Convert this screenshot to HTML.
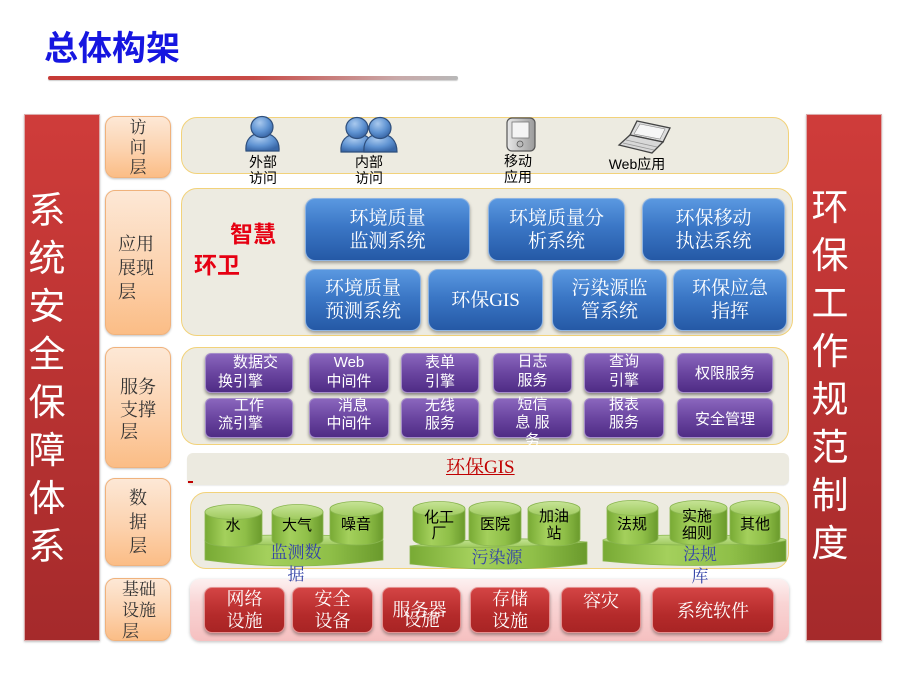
<!DOCTYPE html>
<html><head><meta charset="utf-8">
<style>
*{margin:0;padding:0;box-sizing:border-box;}
html,body{width:923px;height:696px;background:#fff;overflow:hidden;position:relative;}
.a{position:absolute;}
.sans{font-family:"Liberation Sans","Noto Sans CJK SC","WenQuanYi Zen Hei",sans-serif;}
.serif{font-family:"Liberation Serif","Noto Serif CJK SC","Noto Sans CJK SC",serif;}
.pix{font-family:"Liberation Sans","WenQuanYi Zen Hei","Noto Sans CJK SC",sans-serif;}
.bar{background:linear-gradient(#cf3c3a,#a52a2b);border:1px solid #dcaaaa;box-shadow:0 1px 2px rgba(0,0,0,0.25);}
.bar div{position:absolute;color:#fff;font-size:37px;line-height:48px;width:48px;text-align:center;}
.lay{background:linear-gradient(#fde8d6,#fcd2ae 55%,#fbbd86);border:1px solid #f0b27c;border-radius:10px;box-shadow:0 1px 2px rgba(0,0,0,0.25);color:#333;font-size:17px;}
.pan{background:#edebe1;border:1.5px solid #f2d27a;border-radius:16px;}
.blue{background:linear-gradient(#5a98e0,#3b77c6 45%,#2559a6);border:1px solid #8db3e2;border-radius:10px;box-shadow:0 2px 3px rgba(0,0,0,0.35);color:#fff;font-size:19px;line-height:23px;text-align:center;display:flex;align-items:center;justify-content:center;}
.pur{background:linear-gradient(#8a66bd,#6a45a0 50%,#4f2c85);border:1px solid #a58dc9;border-radius:6px;box-shadow:0 2px 3px rgba(0,0,0,0.45);color:#fff;font-size:15px;}
.pur div{position:absolute;line-height:18px;white-space:nowrap;}
.red{background:linear-gradient(#d44444,#b52b2b 60%,#a82424);border:1px solid #e59090;border-radius:8px;box-shadow:0 2px 3px rgba(0,0,0,0.35);color:#fff;font-size:18px;}
.red div{position:absolute;left:0;right:0;text-align:center;line-height:20px;white-space:nowrap;}
.lbl{color:#000;font-size:14px;line-height:16px;text-align:center;white-space:nowrap;}
.top{z-index:5;}
</style></head><body>

<!-- Title -->
<div class="a sans" style="left:44px;top:30px;font-size:34px;line-height:38px;font-weight:bold;color:#1616e0;">总体构架</div>
<div class="a" style="left:48px;top:76px;width:410px;height:4px;background:linear-gradient(90deg,#c63a36,#c84a46 50%,#c9a8a8 85%,#b8b8b8);border-radius:2px;box-shadow:0 1px 1px rgba(0,0,0,0.2);"></div>

<!-- Left bar -->
<div class="a bar sans" style="left:24px;top:114px;width:76px;height:527px;">
<div style="left:-2px;top:72px;">系<br>统<br>安<br>全<br>保<br>障<br>体<br>系</div>
</div>
<!-- Right bar -->
<div class="a bar sans" style="left:806px;top:114px;width:76px;height:527px;">
<div style="left:-1px;top:69px;">环<br>保<br>工<br>作<br>规<br>范<br>制<br>度</div>
</div>

<!-- Layer labels -->
<div class="a lay serif" style="left:105px;top:116px;width:66px;height:62px;"><div class="a" style="left:0;right:0;top:1px;text-align:center;line-height:20px;">访<br>问<br>层</div></div>
<div class="a lay serif" style="left:105px;top:190px;width:66px;height:145px;"><div class="a" style="left:12px;top:41px;line-height:24px;font-size:18px;">应用<br>展现<br>层</div></div>
<div class="a lay serif" style="left:105px;top:347px;width:66px;height:121px;"><div class="a" style="left:14px;top:28px;line-height:22.5px;font-size:18px;">服务<br>支撑<br>层</div></div>
<div class="a lay serif" style="left:105px;top:478px;width:66px;height:88px;"><div class="a" style="left:0;right:0;top:7px;text-align:center;line-height:24px;font-size:18px;">数<br>据<br>层</div></div>
<div class="a lay serif" style="left:105px;top:578px;width:66px;height:63px;"><div class="a" style="left:16px;top:0px;line-height:21px;font-size:17px;">基础<br>设施<br>层</div></div>

<!-- Access panel -->
<div class="a pan" style="left:181px;top:117px;width:608px;height:57px;"></div>
<svg class="a" style="left:0;top:0;" width="923" height="200">
<defs>
<radialGradient id="pg" cx="40%" cy="30%" r="70%"><stop offset="0" stop-color="#a9c9ee"/><stop offset="0.6" stop-color="#5f93d2"/><stop offset="1" stop-color="#3a68a8"/></radialGradient>
<linearGradient id="mg" x1="0" x2="1"><stop offset="0" stop-color="#e8e8e8"/><stop offset="1" stop-color="#9a9a9a"/></linearGradient>
</defs>
<g stroke="#2f4f7c" stroke-width="1.2" fill="url(#pg)">
<path d="M246,151 C245,140 251,133 262,133 C273,133 280,140 279,151 Z"/>
<ellipse cx="262" cy="127" rx="11" ry="10.5"/>
<path d="M341,152 C340,141 346,134 357,134 C368,134 374,141 374,152 Z"/>
<ellipse cx="357" cy="128" rx="11" ry="10.5"/>
<path d="M364,152 C363,141 369,134 380,134 C391,134 397,141 397,152 Z"/>
<ellipse cx="380" cy="128" rx="11" ry="10.5"/>
</g>
<rect x="507" y="118" width="28" height="33" rx="5" fill="url(#mg)" stroke="#555" stroke-width="1.2"/>
<rect x="512" y="122" width="17" height="16" fill="#f4f4f4" stroke="#777" stroke-width="0.8"/>
<circle cx="520" cy="144" r="3" fill="#bbb" stroke="#555" stroke-width="0.8"/>
<polygon points="637,121 670,128 663,142 630,135" fill="#ddd" stroke="#444" stroke-width="1.3"/>
<polygon points="640,124 665,129 660,139 634,134" fill="#f6f6f6" stroke="#888" stroke-width="0.6"/>
<polygon points="630,135 663,142 652,153 619,145" fill="#d8d8d8" stroke="#444" stroke-width="1.3"/>
<path d="M626,140 L657,147 M623,143 L654,150" stroke="#999" stroke-width="0.8"/>
</svg>
<div class="a lbl pix" style="left:243px;top:154px;width:40px;">外部<br>访问</div>
<div class="a lbl pix" style="left:349px;top:154px;width:40px;">内部<br>访问</div>
<div class="a lbl pix" style="left:498px;top:153px;width:40px;">移动<br>应用</div>
<div class="a lbl pix" style="left:607px;top:156px;width:60px;">Web应用</div>

<!-- Application panel -->
<div class="a pan" style="left:181px;top:188px;width:612px;height:148px;"></div>
<div class="a sans" style="left:230px;top:220px;font-size:23px;line-height:28px;font-weight:bold;color:#e60012;">智慧</div>
<div class="a sans" style="left:194px;top:251px;font-size:23px;line-height:28px;font-weight:bold;color:#e60012;">环卫</div>
<div class="a blue serif" style="left:305px;top:198px;width:165px;height:63px;">环境质量<br>监测系统</div>
<div class="a blue serif" style="left:488px;top:198px;width:137px;height:63px;">环境质量分<br>析系统</div>
<div class="a blue serif" style="left:642px;top:198px;width:143px;height:63px;">环保移动<br>执法系统</div>
<div class="a blue serif" style="left:305px;top:269px;width:116px;height:62px;">环境质量<br>预测系统</div>
<div class="a blue serif" style="left:428px;top:269px;width:115px;height:62px;">环保GIS</div>
<div class="a blue serif" style="left:552px;top:269px;width:115px;height:62px;">污染源监<br>管系统</div>
<div class="a blue serif" style="left:673px;top:269px;width:114px;height:62px;">环保应急<br>指挥</div>

<!-- Service panel -->
<div class="a pan" style="left:181px;top:347px;width:608px;height:98px;"></div>
<div class="a pur pix" style="left:205px;top:353px;width:88px;height:40px;"><div style="left:27px;top:0px;">数据交</div><div style="left:12px;top:19px;">换引擎</div></div>
<div class="a pur pix" style="left:309px;top:353px;width:80px;height:40px;"><div style="left:0;right:0;text-align:center;top:0px;">Web</div><div style="left:0;right:0;text-align:center;top:19px;">中间件</div></div>
<div class="a pur pix" style="left:401px;top:353px;width:78px;height:40px;"><div style="left:0;right:0;text-align:center;top:0px;">表单</div><div style="left:0;right:0;text-align:center;top:19px;">引擎</div></div>
<div class="a pur pix" style="left:493px;top:353px;width:79px;height:40px;"><div style="left:0;right:0;text-align:center;top:-1px;">日志</div><div style="left:0;right:0;text-align:center;top:18px;">服务</div></div>
<div class="a pur pix" style="left:584px;top:353px;width:80px;height:40px;"><div style="left:0;right:0;text-align:center;top:-1px;">查询</div><div style="left:0;right:0;text-align:center;top:18px;">引擎</div></div>
<div class="a pur pix" style="left:677px;top:353px;width:96px;height:40px;"><div style="left:0;right:0;text-align:center;top:11px;">权限服务</div></div>
<div class="a pur pix" style="left:205px;top:398px;width:88px;height:40px;"><div style="left:28px;top:-2px;">工作</div><div style="left:12px;top:16px;">流引擎</div></div>
<div class="a pur pix" style="left:309px;top:398px;width:80px;height:40px;"><div style="left:28px;top:-2px;">消息</div><div style="left:0;right:0;text-align:center;top:16px;">中间件</div></div>
<div class="a pur pix" style="left:401px;top:398px;width:78px;height:40px;"><div style="left:0;right:0;text-align:center;top:-2px;">无线</div><div style="left:0;right:0;text-align:center;top:16px;">服务</div></div>
<div class="a pur pix" style="left:493px;top:398px;width:79px;height:40px;overflow:visible;"><div style="left:0;right:0;text-align:center;top:-3px;">短信</div><div style="left:0;right:0;text-align:center;top:15px;">息&nbsp;服</div><div style="left:0;right:0;text-align:center;top:33px;">务</div></div>
<div class="a pur pix" style="left:584px;top:398px;width:80px;height:40px;"><div style="left:0;right:0;text-align:center;top:-3px;">报表</div><div style="left:0;right:0;text-align:center;top:15px;">服务</div></div>
<div class="a pur pix" style="left:677px;top:398px;width:96px;height:40px;"><div style="left:0;right:0;text-align:center;top:12px;">安全管理</div></div>

<!-- GIS bar -->
<div class="a" style="left:187px;top:453px;width:602px;height:32px;background:#eceae0;border-radius:6px;box-shadow:0 1px 1px rgba(0,0,0,0.08);"></div>
<div class="a serif" style="left:446px;top:456px;font-size:19px;line-height:24px;color:#c00000;text-decoration:underline;">环保GIS</div>
<div class="a" style="left:188px;top:481px;width:5px;height:2px;background:#c00000;"></div>

<!-- Infrastructure panel (drawn before data labels so they overlap it) -->
<div class="a" style="left:190px;top:579px;width:599px;height:62px;border-radius:10px;background:linear-gradient(#fdf0f0,#f9d4d4 40%,#f5c0c0);box-shadow:0 1px 3px rgba(0,0,0,0.25);"></div>
<div class="a red serif" style="left:204px;top:587px;width:81px;height:46px;"><div style="top:1px;">网络</div><div style="top:23px;">设施</div></div>
<div class="a red serif" style="left:292px;top:587px;width:81px;height:46px;"><div style="top:1px;">安全</div><div style="top:23px;">设备</div></div>
<div class="a red serif" style="left:382px;top:587px;width:79px;height:46px;"><div style="top:12px;left:-4px;">服务器</div><div style="top:22px;">设施</div></div>
<div class="a red serif" style="left:470px;top:587px;width:80px;height:46px;"><div style="top:1px;">存储</div><div style="top:23px;">设施</div></div>
<div class="a red serif" style="left:561px;top:587px;width:80px;height:46px;"><div style="top:3px;">容灾</div></div>
<div class="a red serif" style="left:652px;top:587px;width:122px;height:46px;"><div style="top:13px;">系统软件</div></div>

<!-- Data panel -->
<div class="a pan" style="left:190px;top:492px;width:599px;height:77px;"></div>
<svg class="a" style="left:0;top:0;" width="923" height="696">
<defs>
<linearGradient id="gb" x1="0" x2="1"><stop offset="0" stop-color="#78aa34"/><stop offset="0.35" stop-color="#a4d05c"/><stop offset="0.7" stop-color="#8fbf48"/><stop offset="1" stop-color="#6a9a2c"/></linearGradient>
<linearGradient id="gt" x1="0" y1="0" x2="0" y2="1"><stop offset="0" stop-color="#c6e496"/><stop offset="1" stop-color="#9fca5e"/></linearGradient>
</defs>
<g stroke="#8ab650" stroke-width="0.8">
<path d="M205,540 L205,560 Q294,572 383,560 L383,540 Z" fill="url(#gb)"/>
<ellipse cx="294" cy="540" rx="89" ry="5" fill="url(#gt)"/>
<path d="M410,546 L410,564 Q498,574 587,564 L587,542 Z" fill="url(#gb)"/>
<path d="M410,546 Q498,534 587,542 Q498,550 410,546 Z" fill="url(#gt)"/>
<path d="M603,540 L603,561 Q695,570 786,561 L786,540 Z" fill="url(#gb)"/>
<ellipse cx="694.5" cy="540" rx="91.5" ry="5" fill="url(#gt)"/>
</g>
<g stroke="#8ab650" stroke-width="0.8">
<path d="M205,512 L205,540 A28.5,7 0 0 0 262,540 L262,512 Z" fill="url(#gb)"/><ellipse cx="233.5" cy="512" rx="28.5" ry="7.5" fill="url(#gt)"/>
<path d="M272,512 L272,540 A25.5,7 0 0 0 323,540 L323,512 Z" fill="url(#gb)"/><ellipse cx="297.5" cy="512" rx="25.5" ry="7.5" fill="url(#gt)"/>
<path d="M330,509 L330,538 A26.5,7 0 0 0 383,538 L383,509 Z" fill="url(#gb)"/><ellipse cx="356.5" cy="509" rx="26.5" ry="7.5" fill="url(#gt)"/>
<path d="M413,509 L413,539 A26,7 0 0 0 465,539 L465,509 Z" fill="url(#gb)"/><ellipse cx="439" cy="509" rx="26" ry="7.5" fill="url(#gt)"/>
<path d="M469,509 L469,539 A26,7 0 0 0 521,539 L521,509 Z" fill="url(#gb)"/><ellipse cx="495" cy="509" rx="26" ry="7.5" fill="url(#gt)"/>
<path d="M528,509 L528,539 A26,7 0 0 0 580,539 L580,509 Z" fill="url(#gb)"/><ellipse cx="554" cy="509" rx="26" ry="7.5" fill="url(#gt)"/>
<path d="M607,508 L607,538 A25.5,7 0 0 0 658,538 L658,508 Z" fill="url(#gb)"/><ellipse cx="632.5" cy="508" rx="25.5" ry="7.5" fill="url(#gt)"/>
<path d="M670,508 L670,538 A28.5,7 0 0 0 727,538 L727,508 Z" fill="url(#gb)"/><ellipse cx="698.5" cy="508" rx="28.5" ry="7.5" fill="url(#gt)"/>
<path d="M730,508 L730,538 A25,7 0 0 0 780,538 L780,508 Z" fill="url(#gb)"/><ellipse cx="755" cy="508" rx="25" ry="7.5" fill="url(#gt)"/>
</g>
</svg>
<div class="a lbl pix" style="left:213px;top:518px;width:40px;font-size:15px;">水</div>
<div class="a lbl pix" style="left:277px;top:518px;width:40px;font-size:15px;">大气</div>
<div class="a lbl pix" style="left:336px;top:517px;width:40px;font-size:15px;">噪音</div>
<div class="a lbl pix" style="left:419px;top:510px;width:40px;font-size:15px;">化工<br>厂</div>
<div class="a lbl pix" style="left:475px;top:517px;width:40px;font-size:15px;">医院</div>
<div class="a lbl pix" style="left:534px;top:508px;width:40px;font-size:15px;line-height:17px;">加油<br>站</div>
<div class="a lbl pix" style="left:612px;top:517px;width:40px;font-size:15px;">法规</div>
<div class="a lbl pix" style="left:677px;top:508px;width:40px;font-size:15px;line-height:17px;">实施<br>细则</div>
<div class="a lbl pix" style="left:735px;top:517px;width:40px;font-size:15px;">其他</div>
<div class="a serif top" style="left:266px;top:542px;width:60px;text-align:center;font-size:17px;line-height:22px;color:#3545a8;">监测数<br>据</div>
<div class="a serif top" style="left:462px;top:547px;width:70px;text-align:center;font-size:17px;line-height:22px;color:#3545a8;">污染源</div>
<div class="a serif top" style="left:670px;top:544px;width:60px;text-align:center;font-size:17px;line-height:22px;color:#3545a8;">法规<br>库</div>

</body></html>
